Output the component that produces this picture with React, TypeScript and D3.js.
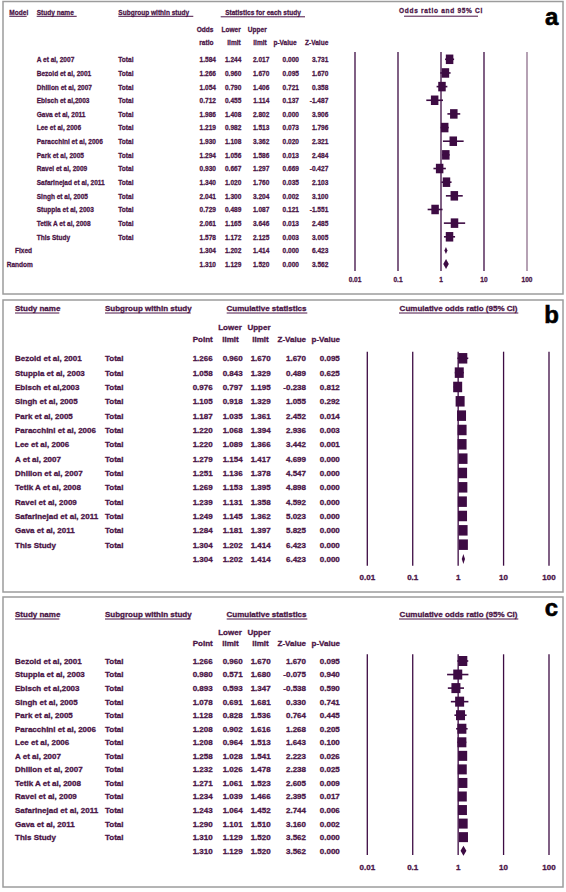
import React from 'react';
import * as d3 from 'd3';

// ---------- Panel a data ----------
const studiesA = [
  'A et al, 2007', 'Bezold et al, 2001', 'Dhillon et al, 2007', 'Ebisch et al,2003',
  'Gava et al, 2011', 'Lee et al, 2006', 'Paracchini et al, 2006', 'Park et al, 2005',
  'Ravel et al, 2009', 'Safarinejad et al, 2011', 'Singh et al, 2005', 'Stuppia et al, 2003',
  'Tetik A et al, 2008', 'This Study',
];
const modelsA = ['Fixed', 'Random'];
const orA = [1.584, 1.266, 1.054, 0.712, 1.986, 1.219, 1.930, 1.294, 0.930, 1.340, 2.041, 0.729, 2.061, 1.578, 1.304, 1.310];
const lowerA = [1.244, 0.960, 0.790, 0.455, 1.408, 0.982, 1.108, 1.056, 0.667, 1.020, 1.300, 0.489, 1.165, 1.172, 1.202, 1.129];
const upperA = [2.017, 1.670, 1.406, 1.114, 2.802, 1.513, 3.362, 1.586, 1.297, 1.760, 3.204, 1.087, 3.646, 2.125, 1.414, 1.520];
const pValA = [0.000, 0.095, 0.721, 0.137, 0.000, 0.073, 0.020, 0.013, 0.669, 0.035, 0.002, 0.121, 0.013, 0.003, 0.000, 0.000];
const zValA = [3.731, 1.670, 0.358, -1.487, 3.906, 1.796, 2.321, 2.484, -0.427, 2.103, 3.100, -1.551, 2.485, 3.005, 6.423, 3.562];

// ---------- Panel b data (cumulative, fixed) ----------
const studiesCum = [
  'Bezold et al, 2001', 'Stuppia et al, 2003', 'Ebisch et al,2003', 'Singh et al, 2005',
  'Park et al, 2005', 'Paracchini et al, 2006', 'Lee et al, 2006', 'A et al, 2007',
  'Dhillon et al, 2007', 'Tetik A et al, 2008', 'Ravel et al, 2009', 'Safarinejad et al, 2011',
  'Gava et al, 2011', 'This Study',
];
const pointB = [1.266, 1.058, 0.976, 1.105, 1.187, 1.220, 1.220, 1.279, 1.251, 1.269, 1.239, 1.249, 1.284, 1.304, 1.304];
const lowerB = [0.960, 0.843, 0.797, 0.918, 1.035, 1.068, 1.089, 1.154, 1.136, 1.153, 1.131, 1.145, 1.181, 1.202, 1.202];
const upperB = [1.670, 1.329, 1.195, 1.329, 1.361, 1.394, 1.366, 1.417, 1.378, 1.395, 1.358, 1.362, 1.397, 1.414, 1.414];
const zValB = [1.670, 0.489, -0.238, 1.055, 2.452, 2.936, 3.442, 4.699, 4.547, 4.898, 4.592, 5.023, 5.825, 6.423, 6.423];
const pValB = [0.095, 0.625, 0.812, 0.292, 0.014, 0.003, 0.001, 0.000, 0.000, 0.000, 0.000, 0.000, 0.000, 0.000, 0.000];

// ---------- Panel c data (cumulative, random) ----------
const pointC = [1.266, 0.980, 0.893, 1.078, 1.128, 1.208, 1.208, 1.258, 1.232, 1.271, 1.234, 1.243, 1.290, 1.310, 1.310];
const lowerC = [0.960, 0.571, 0.593, 0.691, 0.828, 0.902, 0.964, 1.028, 1.026, 1.061, 1.039, 1.064, 1.101, 1.129, 1.129];
const upperC = [1.670, 1.680, 1.347, 1.681, 1.536, 1.616, 1.513, 1.541, 1.478, 1.523, 1.466, 1.452, 1.510, 1.520, 1.520];
const zValC = [1.670, -0.075, -0.538, 0.330, 0.764, 1.268, 1.643, 2.223, 2.238, 2.605, 2.395, 2.744, 3.160, 3.562, 3.562];
const pValC = [0.095, 0.940, 0.590, 0.741, 0.445, 0.205, 0.100, 0.026, 0.025, 0.009, 0.017, 0.006, 0.002, 0.000, 0.000];

const tickValues = [0.01, 0.1, 1, 10, 100];
const tickLabels = ['0.01', '0.1', '1', '10', '100'];

// ---------- styles ----------
const TEXT = '#4a1446';
const MARK = '#3d0b43';
const BORDER = '#9c9c9c';
const FONT = "'Liberation Sans', Arial, Helvetica, sans-serif";
const fmt = (v: number) => v.toFixed(3);

type TProps = {
  x: number; y: number; children: React.ReactNode; anchor?: string; sx?: number;
  size?: number; ls?: number; fill?: string; weight?: string; sw?: number;
};
function T({ x, y, children, anchor = 'start', sx = 1, size = 8, ls = 0, fill = TEXT, weight = 'bold', sw = 0.3 }: TProps) {
  return (
    <text
      transform={`translate(${x},${y}) scale(${sx},1)`}
      textAnchor={anchor as any}
      fontSize={size}
      fontWeight={weight}
      fill={fill}
      stroke={fill}
      strokeWidth={sw}
      letterSpacing={ls}
      fontFamily={FONT}
    >
      {children}
    </text>
  );
}

function ULine({ x1, x2, y }: { x1: number; x2: number; y: number }) {
  return <line x1={x1} x2={x2} y1={y} y2={y} stroke={TEXT} strokeWidth={1} />;
}

function diamond(lo: number, pt: number, hi: number, y: number, h: number) {
  return `M${lo},${y}L${pt},${y - h / 2}L${hi},${y}L${pt},${y + h / 2}Z`;
}

// ---------- Panel a ----------
function PanelA() {
  const sx = 0.82;
  const x = d3.scaleLog().domain([0.01, 100]).range([355, 527]);
  const y = d3.scaleLinear().domain([0, 15]).range([59.3, 264.1]);
  const rows = d3.range(16);
  const colRight = [216, 241.3, 269.3, 299, 328.3];
  const hdrRight = [213.5, 240.7, 266.7, 296.7, 328.3];
  const cols = [orA, lowerA, upperA, pValA, zValA];
  const hTop = 14.6;
  return (
    <g>
      <rect x={3} y={1.5} width={560} height={292.5} fill="none" stroke={BORDER} strokeWidth={1.5} />
      <T x={9.3} y={hTop} sx={sx}>Model</T>
      <ULine x1={9.3} x2={26.7} y={16.3} />
      <T x={36.7} y={hTop} sx={sx}>Study name</T>
      <ULine x1={36.7} x2={76.7} y={16.3} />
      <T x={118.3} y={hTop} sx={sx}>Subgroup within study</T>
      <ULine x1={118.3} x2={193.3} y={16.3} />
      <T x={263} y={hTop} sx={sx} anchor="middle">Statistics for each study</T>
      <ULine x1={220.7} x2={305} y={16.8} />
      {[['Odds', 'ratio'], ['Lower', 'limit'], ['Upper', 'limit'], ['', 'p-Value'], ['', 'Z-Value']].map((h, i) => (
        <g key={i}>
          <T x={hdrRight[i]} y={32.2} sx={sx} anchor="end">{h[0]}</T>
          <T x={hdrRight[i]} y={44.6} sx={sx} anchor="end">{h[1]}</T>
        </g>
      ))}
      {rows.map((i) => {
        const yb = y(i) + 2.9;
        return (
          <g key={i}>
            {i < studiesA.length ? (
              <>
                <T x={36.7} y={yb} sx={sx}>{studiesA[i]}</T>
                <T x={118.3} y={yb} sx={sx}>Total</T>
              </>
            ) : (
              <T x={i === 14 ? 15 : 6.7} y={yb} sx={sx}>{modelsA[i - 14]}</T>
            )}
            {cols.map((c, j) => (
              <T key={j} x={colRight[j]} y={yb} sx={sx} anchor="end">{fmt(c[i])}</T>
            ))}
          </g>
        );
      })}
      {/* plot */}
      <T x={441} y={12.9} sx={sx} anchor="middle" ls={0.85}>Odds ratio and 95% CI</T>
      <ULine x1={404} x2={478} y={16.2} />
      {tickValues.map((t, k) => (
        <g key={k}>
          <line x1={x(t)} x2={x(t)} y1={52} y2={271} stroke={k === 4 ? '#8e6f8c' : MARK} strokeWidth={1.3} />
          <T x={x(t)} y={282.2} sx={sx} anchor="middle">{tickLabels[k]}</T>
        </g>
      ))}
      {rows.map((i) => {
        const yc = y(i);
        if (i < 14) {
          const w = 7.5, h = 9.5;
          return (
            <g key={i}>
              <line x1={x(lowerA[i])} x2={x(upperA[i])} y1={yc} y2={yc} stroke={MARK} strokeWidth={1.6} />
              <rect x={x(orA[i]) - w / 2} y={yc - h / 2} width={w} height={h} fill={MARK} />
            </g>
          );
        }
        return <path key={i} d={diamond(x(lowerA[i]), x(orA[i]), x(upperA[i]), yc, i === 14 ? 7 : 10)} fill={MARK} />;
      })}
      <T x={551.7} y={25} size={24} anchor="middle" fill="#000" sw={0.6}>a</T>
    </g>
  );
}

// ---------- Panels b and c ----------
type CumProps = {
  top: number; bottom: number; hdrY: number; l1Y: number; l2Y: number; row0: number; rowN: number;
  gridTop: number; gridBottom: number; tickY: number; letter: string; letterY: number;
  point: number[]; lower: number[]; upper: number[]; zv: number[]; pv: number[];
  markW: number; markH: number;
};
function PanelCum(p: CumProps) {
  const x = d3.scaleLog().domain([0.01, 100]).range([367.3, 549]);
  const y = d3.scaleLinear().domain([0, 14]).range([p.row0, p.rowN]);
  const rows = d3.range(15);
  const colRight = [212.7, 242.7, 270.7, 306, 339.8];
  const cols = [p.point, p.lower, p.upper, p.zv, p.pv];
  return (
    <g>
      <rect x={3} y={p.top} width={560} height={p.bottom - p.top} fill="none" stroke={BORDER} strokeWidth={1.5} />
      <T x={15} y={p.hdrY}>Study name</T>
      <ULine x1={15} x2={59.3} y={p.hdrY + 1.8} />
      <T x={105} y={p.hdrY}>Subgroup within study</T>
      <ULine x1={105} x2={190.7} y={p.hdrY + 1.8} />
      <T x={266.5} y={p.hdrY} anchor="middle">Cumulative statistics</T>
      <ULine x1={226.7} x2={307.3} y={p.hdrY + 1.8} />
      <T x={230} y={p.l1Y} anchor="middle">Lower</T>
      <T x={259} y={p.l1Y} anchor="middle">Upper</T>
      <T x={212.7} y={p.l2Y} anchor="end">Point</T>
      <T x={230.5} y={p.l2Y} anchor="middle">limit</T>
      <T x={260.5} y={p.l2Y} anchor="middle">limit</T>
      <T x={306} y={p.l2Y} anchor="end">Z-Value</T>
      <T x={340} y={p.l2Y} anchor="end">p-Value</T>
      {rows.map((i) => {
        const yb = y(i) + 2.9;
        return (
          <g key={i}>
            {i < studiesCum.length && (
              <>
                <T x={15} y={yb}>{studiesCum[i]}</T>
                <T x={105} y={yb}>Total</T>
              </>
            )}
            {cols.map((c, j) => (
              <T key={j} x={colRight[j]} y={yb} anchor="end">{fmt(c[i])}</T>
            ))}
          </g>
        );
      })}
      <T x={458.5} y={p.hdrY} anchor="middle">Cumulative odds ratio (95% CI)</T>
      <ULine x1={399} x2={518.3} y={p.hdrY + 1.8} />
      {tickValues.map((t, k) => (
        <g key={k}>
          <line x1={x(t)} x2={x(t)} y1={p.gridTop} y2={p.gridBottom} stroke={MARK} strokeWidth={1.3} />
          <T x={x(t)} y={p.tickY} anchor="middle">{tickLabels[k]}</T>
        </g>
      ))}
      {rows.map((i) => {
        const yc = y(i);
        if (i < 14) {
          const w = p.markW, h = p.markH;
          return (
            <g key={i}>
              <line x1={x(p.lower[i])} x2={x(p.upper[i])} y1={yc} y2={yc} stroke={MARK} strokeWidth={1.6} />
              <rect x={x(p.point[i]) - w / 2} y={yc - h / 2} width={w} height={h} fill={MARK} />
            </g>
          );
        }
        return <path key={i} d={diamond(x(p.lower[i]), x(p.point[i]), x(p.upper[i]), yc, 10)} fill={MARK} />;
      })}
      <T x={551.5} y={p.letterY} size={24} anchor="middle" fill="#000" sw={0.6}>{p.letter}</T>
    </g>
  );
}

export default function App() {
  return (
    <svg
      width={566}
      height={892}
      viewBox="0 0 566 892"
      style={{ position: 'absolute', left: 0, top: 0, background: '#fff' }}
    >
      <rect x={0} y={0} width={566} height={892} fill="#fff" />
      <PanelA />
      <PanelCum
        top={300} bottom={592} hdrY={311.2} l1Y={330.2} l2Y={342.2} row0={358.3} rowN={559}
        gridTop={351.7} gridBottom={565.7} tickY={579.6} letter="b" letterY={323}
        point={pointB} lower={lowerB} upper={upperB} zv={zValB} pv={pValB} markW={9} markH={10.5}
      />
      <PanelCum
        top={597} bottom={887} hdrY={617.2} l1Y={635.2} l2Y={646.2} row0={661} rowN={850.7}
        gridTop={654.3} gridBottom={855} tickY={869.6} letter="c" letterY={616}
        point={pointC} lower={lowerC} upper={upperC} zv={zValC} pv={pValC} markW={9} markH={10}
      />
    </svg>
  );
}
